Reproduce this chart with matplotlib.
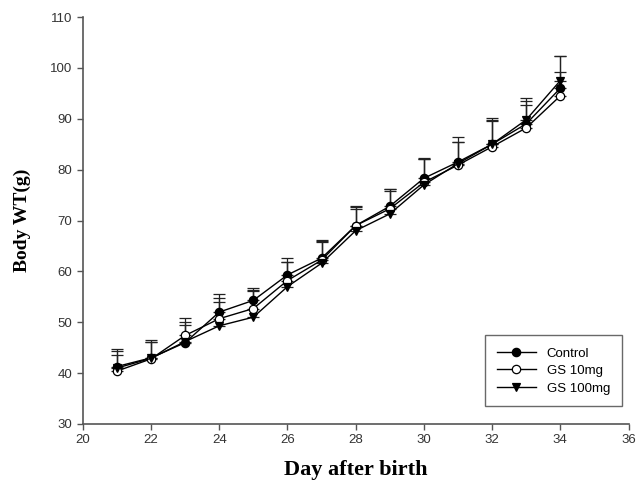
import matplotlib.pyplot as plt
from matplotlib.lines import Line2D
import numpy as np

days = [21, 22, 23, 24, 25, 26, 27, 28, 29, 30, 31, 32, 33, 34]

control = [41.3, 43.0, 46.0, 52.0, 54.3, 59.3, 62.6, 69.0, 72.8, 78.3, 81.5, 85.0, 89.0, 96.0]
gs10 = [40.4, 42.8, 47.4, 50.7, 52.7, 58.2, 62.2, 69.0, 72.3, 77.5, 80.9, 84.5, 88.2, 94.5]
gs100 = [41.0, 42.9, 46.2, 49.3, 51.0, 57.0, 61.6, 68.0, 71.3, 77.0, 81.2, 85.0, 89.8, 97.5]

control_err = [3.4, 3.5, 3.5, 3.5, 2.5, 3.3, 3.5, 3.8, 3.3, 4.0, 4.9, 5.2, 4.4, 6.3]
gs10_err = [3.2, 3.3, 3.4, 4.0, 3.5, 3.6, 3.8, 3.3, 3.5, 4.6, 4.6, 5.0, 4.5, 4.7]
gs100_err = [3.4, 3.3, 3.8, 4.6, 5.3, 4.8, 4.2, 4.7, 4.8, 5.0, 4.3, 4.8, 4.2, 4.8]

plt.rcParams["font.family"] = ["Liberation Sans", "DejaVu Sans"]

fig = plt.figure(figsize=(6.42, 5.0), dpi=100)
ax = fig.add_axes([0.129, 0.152, 0.850, 0.814])

series = [
    ("Control", control, control_err, dict(marker="o", mfc="black")),
    ("GS 10mg", gs10, gs10_err, dict(marker="o", mfc="white")),
    ("GS 100mg", gs100, gs100_err, dict(marker="v", mfc="black")),
]

handles = []
for label, vals, err, style in series:
    ax.errorbar(
        days, vals,
        yerr=[np.zeros(len(err)), err],
        color="black",
        ecolor="#222222",
        linewidth=1.0,
        elinewidth=0.9,
        capsize=4,
        capthick=0.9,
        markersize=6,
        mec="black",
        mew=0.9,
        **style,
    )
    # legend shows only line + marker, no error bar
    handles.append(Line2D([], [], color="black", linewidth=1.0,
                          markersize=6, mec="black", mew=0.9,
                          label=label, **style))

ax.set_xlim(20, 36)
ax.set_ylim(30, 110)
ax.set_xticks(range(20, 37, 2))
ax.set_yticks(range(30, 111, 10))

for side in ["top", "right"]:
    ax.spines[side].set_visible(False)
for side in ["left", "bottom"]:
    ax.spines[side].set_color("#555555")
    ax.spines[side].set_linewidth(1.2)

ax.tick_params(direction="out", length=4, width=1.0, color="#555555",
               labelsize=9.5, labelcolor="#333333")

ax.set_xlabel("Day after birth", fontsize=16, fontweight="bold",
              family="Liberation Serif", labelpad=10)
ax.set_ylabel("Body WT(g)", fontsize=14, fontweight="bold",
              family="Liberation Serif", labelpad=14)

leg = ax.legend(
    handles=handles,
    loc="lower right",
    bbox_to_anchor=(1.0, 0.027),
    fontsize=9.5,
    frameon=True,
    fancybox=False,
    edgecolor="#444444",
    handlelength=3.0,
    borderpad=0.9,
    labelspacing=0.4,
)
leg.get_frame().set_linewidth(1.0)

fig.savefig("out.png", dpi=100)
